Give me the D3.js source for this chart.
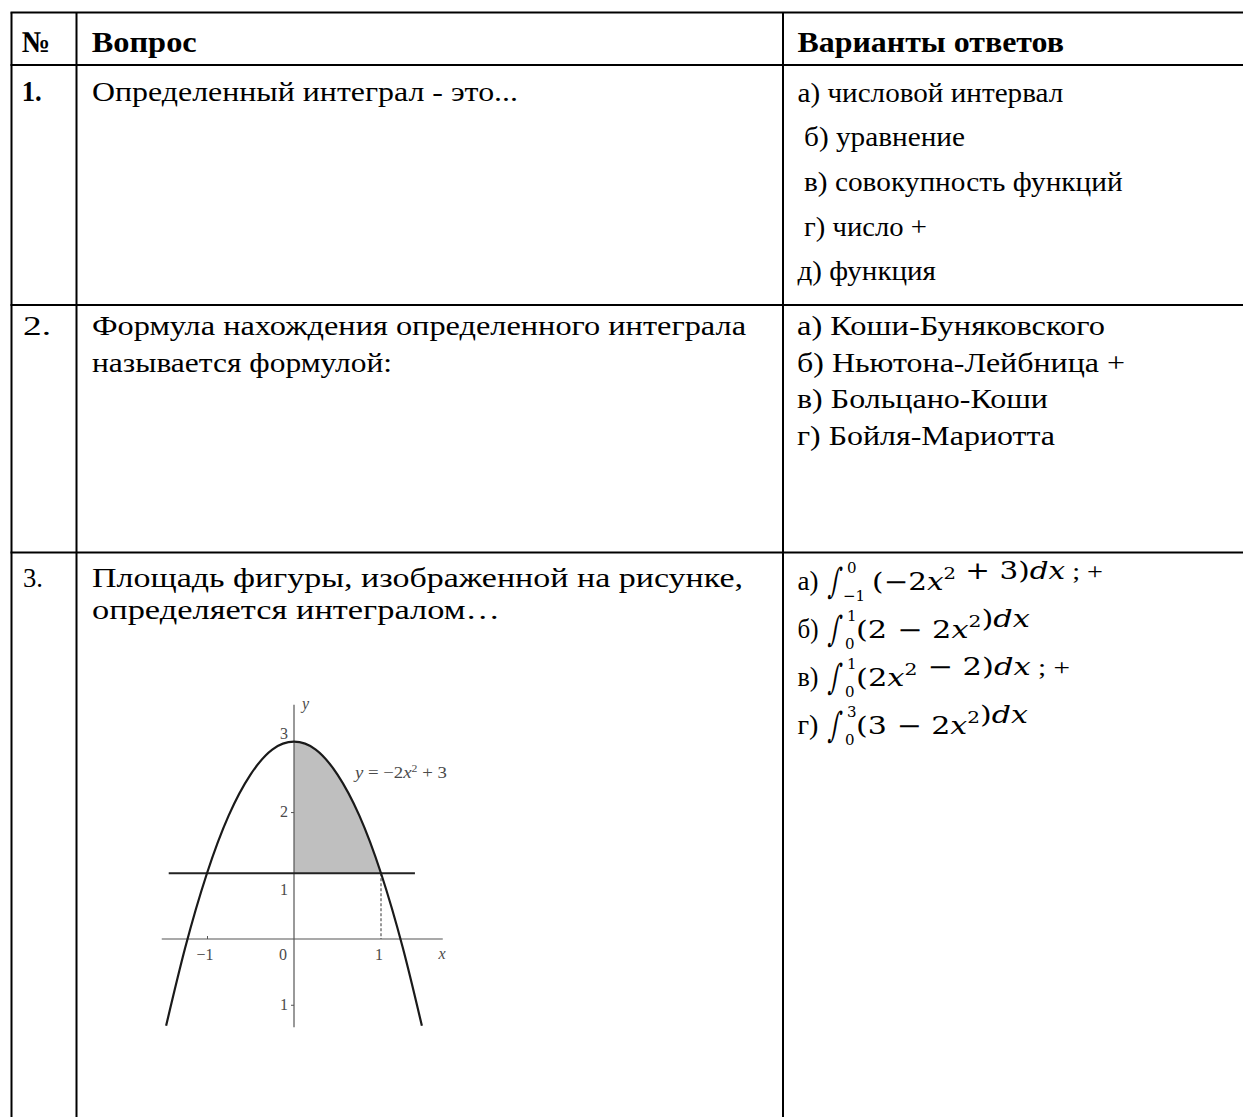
<!DOCTYPE html>
<html>
<head>
<meta charset="utf-8">
<script src="https://cdn.jsdelivr.net/npm/d3@7"></script>
<style>
  body { margin: 0; background: #fff; }
  svg text { font-family: "Liberation Serif", "Times New Roman", serif; fill: #000; }
  .head { font-weight: bold; font-size: 30px; }
  .body { font-size: 26.5px; }
  .math { font-family: "DejaVu Serif", serif; font-size: 24px; }
  .plot text { font-size: 16px; fill: #4a4a4a; }
</style>
</head>
<body>
<svg id="sheet" width="1243" height="1117"></svg>
<script>
const headers = ['№', 'Вопрос', 'Варианты ответов'];
const numbers = ['1.', '2.', '3.'];
const questions = [
  ['Определенный интеграл - это...'],
  ['Формула нахождения определенного интеграла', 'называется формулой:'],
  ['Площадь фигуры, изображенной на рисунке,', 'определяется интегралом…'],
];
const answersRow1 = ['а) числовой интервал', ' б) уравнение', ' в) совокупность функций', ' г) число +', 'д) функция'];
const answersRow2 = ['а) Коши-Буняковского', 'б) Ньютона-Лейбница +', 'в) Больцано-Коши', 'г) Бойля-Мариотта'];
// label, lower limit, upper limit, integrand, tail
const answersRow3 = [
  ['а) ', '−1', '0', '(−2x² + 3)dx', ' ; +'],
  ['б) ', '0', '1', '(2 − 2x²)dx', ''],
  ['в) ', '0', '1', '(2x² − 2)dx', ' ; +'],
  ['г) ', '0', '3', '(3 − 2x²)dx', ''],
];

// parabola y = -2x^2 + 3
const curveX = [-1.47, -1.25, -1, -0.75, -0.5, -0.25, 0, 0.25, 0.5, 0.75, 1, 1.25, 1.47];
const curveY = [-1.32, -0.13, 1, 1.88, 2.5, 2.88, 3, 2.88, 2.5, 1.88, 1, -0.13, -1.32];
const shadeX = [0, 0.25, 0.5, 0.75, 1];
const shadeY = [3, 2.88, 2.5, 1.88, 1];
const lineLevel = 1;
const yTickValues = [3.12, 1.93, 0.74, -1];
const yTickLabels = ['3', '2', '1', '1'];
const xTickValues = [-1, 0, 1];
const xTickLabels = ['−1', '0', '1'];

// layout: right ends of the text lines as set in the sheet
const headEnd = [50, 196.7, 1064];
const numEnd = [41.7, 51, 43];
const questionEnd = [[518], [746, 392], [743, 500]];
const row1End = [1063.3, 965, 1122.7, 927, 936];
const row2End = [1105, 1125, 1048, 1055];
const row3BodyStart = [872, 856, 856, 856];
const row3End = [1103, 1030, 1070, 1028];

const svg = d3.select('#sheet');
svg.append('rect').attr('width', 1243).attr('height', 1117).attr('fill', '#fff');

const fit = (sel, x, ends) => sel
  .attr('x', x)
  .attr('textLength', (d, i) => ends[i] - (typeof x === 'function' ? x(d, i) : x))
  .attr('lengthAdjust', 'spacingAndGlyphs');

// table grid
const colX = [11.5, 76.5, 783];
const rowY = [12.5, 65, 305, 552.5];
const grid = svg.append('g').attr('stroke', '#000').attr('stroke-width', 2);
rowY.forEach((y) => grid.append('line').attr('x1', colX[0] - 1).attr('x2', 1243).attr('y1', y).attr('y2', y));
colX.forEach((x) => grid.append('line').attr('x1', x).attr('x2', x).attr('y1', rowY[0]).attr('y2', 1117));

// header
const headX = [21.7, 91.7, 797.5];
svg.append('g').selectAll('text')
  .data(headers)
  .enter()
  .append('text')
  .attr('class', 'head')
  .attr('y', 51.5)
  .text((d) => d)
  .call(fit, (d, i) => headX[i], headEnd);

// numbers
const numY = [100.5, 335, 587];
svg.append('g').selectAll('text')
  .data(numbers)
  .enter()
  .append('text')
  .attr('class', (d, i) => (i === 0 ? 'head' : 'body'))
  .attr('y', (d, i) => numY[i])
  .text((d) => d)
  .call(fit, (d, i) => (i === 0 ? 21.7 : 23), numEnd);

// questions
const qStep = [0, 36.7, 32.3];
questions.forEach((lines, r) => {
  svg.append('g').selectAll('text')
    .data(lines)
    .enter()
    .append('text')
    .attr('class', 'body')
    .attr('y', (d, i) => numY[r] + i * qStep[r])
    .text((d) => d)
    .call(fit, 92, questionEnd[r]);
});

// answers, rows 1 and 2
svg.append('g').selectAll('text')
  .data(answersRow1)
  .enter()
  .append('text')
  .attr('class', 'body')
  .attr('y', (d, i) => 101.7 + i * 44.6)
  .text((d) => d.trim())
  .call(fit, (d) => (d.startsWith(' ') ? 804 : 797.5), row1End);

svg.append('g').selectAll('text')
  .data(answersRow2)
  .enter()
  .append('text')
  .attr('class', 'body')
  .attr('y', (d, i) => 335 + i * 36.7)
  .text((d) => d)
  .call(fit, 797, row2End);

// answers, row 3 (integrals)
const r3 = svg.append('g');
answersRow3.forEach((a, i) => {
  const y = 590 + i * 48;
  r3.append('text').attr('class', 'body').attr('y', y).text(a[0].trim())
    .attr('x', 797.5).attr('textLength', 21).attr('lengthAdjust', 'spacingAndGlyphs');
  r3.append('text').attr('class', 'math')
    .attr('transform', `translate(828, ${y + 3}) scale(0.8, 1.3) skewX(-14)`)
    .style('font-size', '27px').text('∫');
  r3.append('text').attr('class', 'math').attr('x', 847).attr('y', y - 17).style('font-size', '15px').text(a[2]);
  r3.append('text').attr('class', 'math').attr('x', a[1].length > 1 ? 843 : 845).attr('y', y + 11).style('font-size', '15px').text(a[1]);
  const body = r3.append('text').attr('class', 'math')
    .attr('x', row3BodyStart[i]).attr('y', y)
    .attr('textLength', row3End[i] - row3BodyStart[i]).attr('lengthAdjust', 'spacingAndGlyphs');
  for (const ch of a[3]) {
    if (ch === '²') {
      body.append('tspan').attr('dy', -11).style('font-size', '16px').text('2');
      body.append('tspan').attr('dy', 11).text('');
    } else if (ch === 'x' || ch === 'd') {
      body.append('tspan').style('font-style', 'italic').text(ch);
    } else {
      body.append('tspan').text(ch);
    }
  }
  if (a[4]) {
    body.append('tspan').style('font-family', '"Liberation Serif", serif').style('font-size', '23px').text(a[4]);
  }
});

// plot
const x = d3.scaleLinear().domain([-1, 1]).range([207, 381]);
const y = d3.scaleLinear().domain([0, 3]).range([939, 741.7]);
const plot = svg.append('g').attr('class', 'plot');

plot.append('path')
  .datum(shadeX.map((v, i) => [v, shadeY[i]]))
  .attr('fill', '#bfbfbf')
  .attr('d', d3.area().x((d) => x(d[0])).y0(y(lineLevel)).y1((d) => y(d[1])).curve(d3.curveNatural));

plot.append('line')
  .attr('x1', x(-1.52)).attr('x2', x(1.71)).attr('y1', y(0)).attr('y2', y(0))
  .attr('stroke', '#555').attr('stroke-width', 1.2);
plot.append('line')
  .attr('x1', x(0)).attr('x2', x(0)).attr('y1', y(3.56)).attr('y2', y(-1.34))
  .attr('stroke', '#555').attr('stroke-width', 1.2);

plot.append('g')
  .attr('transform', `translate(${x(0)}, 0)`)
  .call(d3.axisLeft(y).tickValues([yTickValues[1], yTickValues[3]]).tickSize(3).tickFormat(''))
  .call((g) => g.select('.domain').remove())
  .selectAll('line').attr('stroke', '#555');
plot.append('g')
  .attr('transform', `translate(0, ${y(0)})`)
  .call(d3.axisTop(x).tickValues([xTickValues[0]]).tickSize(3).tickFormat(''))
  .call((g) => g.select('.domain').remove())
  .selectAll('line').attr('stroke', '#555');

plot.append('line')
  .attr('x1', x(-1.44)).attr('x2', x(1.39)).attr('y1', y(lineLevel)).attr('y2', y(lineLevel))
  .attr('stroke', '#222').attr('stroke-width', 2);
plot.append('line')
  .attr('x1', x(1)).attr('x2', x(1)).attr('y1', y(lineLevel)).attr('y2', y(0))
  .attr('stroke', '#333').attr('stroke-width', 1).attr('stroke-dasharray', '3,2');

plot.append('path')
  .datum(curveX.map((v, i) => [v, curveY[i]]))
  .attr('fill', 'none')
  .attr('stroke', '#1a1a1a')
  .attr('stroke-width', 2.2)
  .attr('d', d3.line().x((d) => x(d[0])).y((d) => y(d[1])).curve(d3.curveNatural));

plot.append('g').selectAll('text')
  .data(yTickLabels)
  .enter()
  .append('text')
  .attr('x', x(0) - 6)
  .attr('y', (d, i) => y(yTickValues[i]) + 5)
  .attr('text-anchor', 'end')
  .text((d) => d);

plot.append('g').selectAll('text')
  .data(xTickLabels)
  .enter()
  .append('text')
  .attr('x', (d, i) => x(xTickValues[i]) - (i === 1 ? 11 : 2))
  .attr('y', y(0) + 21)
  .attr('text-anchor', 'middle')
  .text((d) => d);

plot.append('text').attr('x', x(1.66)).attr('y', y(0) + 20).style('font-style', 'italic').text('x');
plot.append('text').attr('x', x(0) + 8).attr('y', y(3.5)).style('font-style', 'italic').text('y');

const eq = plot.append('text').attr('x', x(0.7)).attr('y', y(2.45))
  .attr('textLength', 92).attr('lengthAdjust', 'spacingAndGlyphs');
eq.append('tspan').style('font-style', 'italic').text('y');
eq.append('tspan').text(' = −2');
eq.append('tspan').style('font-style', 'italic').text('x');
eq.append('tspan').attr('dy', -6).style('font-size', '10px').text('2');
eq.append('tspan').attr('dy', 6).text(' + 3');
</script>
</body>
</html>
